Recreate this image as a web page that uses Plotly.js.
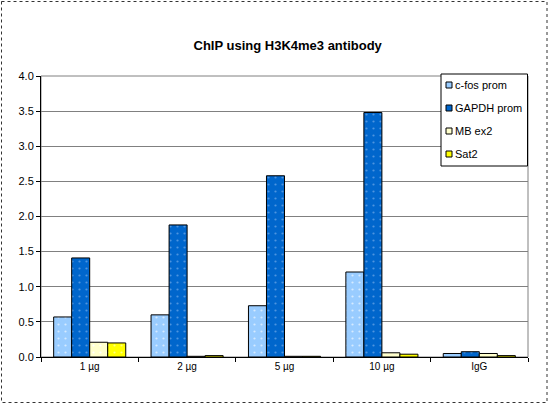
<!DOCTYPE html>
<html><head><meta charset="utf-8">
<script src="https://cdn.plot.ly/plotly-3.0.1.min.js"></script>
<style>body{margin:0;padding:0;background:#fff}#chart{width:550px;height:404px}</style>
</head><body><div id="chart"></div>
<script>
const categories = ["1 µg", "2 µg", "5 µg", "10 µg", "IgG"];
const seriesNames = ["c-fos prom", "GAPDH prom", "MB ex2", "Sat2"];
const cfos  = [0.57, 0.60, 0.73, 1.21, 0.05];
const gapdh = [1.41, 1.88, 2.58, 3.48, 0.075];
const mbex2 = [0.21, 0.01, 0.01, 0.06, 0.05];
const sat2  = [0.20, 0.02, 0.01, 0.04, 0.02];
const yTicks = [0, 0.5, 1, 1.5, 2, 2.5, 3, 3.5, 4];

const colors = ["#99CCFF", "#0066CC", "#FFFFCC", "#FFFF00"];
const dotColors = ["#D5EAFF", "#4D94E0", "#FFFFFF", "#FFFF80"];
const values = [cfos, gapdh, mbex2, sat2];

const traces = values.map((v, i) => ({
  type: "bar",
  name: seriesNames[i],
  x: categories,
  y: v,
  showlegend: false,
  marker: {
    color: colors[i],
    line: {color: "#000000", width: 1},
    pattern: {shape: ".", size: 7, solidity: 0.08, fgcolor: dotColors[i], fillmode: "replace", bgcolor: colors[i]}
  },
  hoverinfo: "none"
}));

const L = 41, R = 528, T = 76, B = 357, W = 550, H = 404;
const px = x => (x - L) / (R - L);
const py = y => (B - y) / (B - T);

const shapes = [
  {type: "rect", xref: "paper", yref: "paper", x0: 0, x1: 1, y0: 0, y1: 1,
   line: {color: "#808080", width: 1}, layer: "below"},
  {type: "rect", xref: "paper", yref: "paper", x0: px(1.5), x1: px(547), y0: py(1.5), y1: py(402.5),
   line: {color: "#333333", width: 1, dash: "dot"}},
  {type: "rect", xref: "paper", yref: "paper", x0: px(441), x1: px(527.5), y0: py(74), y1: py(166),
   line: {color: "#000000", width: 1}, fillcolor: "#ffffff", layer: "above"}
];
const annotations = [];
const legendY = [85, 108, 131, 154];
seriesNames.forEach((n, i) => {
  shapes.push({type: "rect", xref: "paper", yref: "paper",
    x0: px(446), x1: px(452), y0: py(legendY[i] + 3), y1: py(legendY[i] - 3),
    line: {color: "#000000", width: 1}, fillcolor: colors[i], layer: "above"});
  annotations.push({xref: "paper", yref: "paper", x: px(453), y: py(legendY[i]),
    xanchor: "left", yanchor: "middle", showarrow: false, text: n,
    font: {size: 11, family: "Liberation Sans, Arial, sans-serif", color: "#000000"}});
});

const layout = {
  width: W, height: H,
  margin: {l: L, r: W - R, t: T, b: H - B, pad: 0},
  paper_bgcolor: "#ffffff", plot_bgcolor: "#ffffff",
  font: {family: "Liberation Sans, Arial, sans-serif", color: "#000000", size: 11},
  title: {text: "<b>ChIP using H3K4me3 antibody</b>", font: {size: 13, family: "Liberation Sans, Arial, sans-serif"}, x: 0.523, xanchor: "center", y: 1 - 45 / H, yanchor: "middle"},
  barmode: "group",
  bargap: 0.26,
  bargroupgap: 0,
  showlegend: false,
  xaxis: {
    type: "category",
    tickson: "boundaries",
    ticks: "outside", ticklen: 4, tickcolor: "#000000",
    showline: true, linecolor: "#000000", linewidth: 1,
    showgrid: false, zeroline: false,
    tickfont: {size: 10},
    fixedrange: true
  },
  yaxis: {
    range: [0, 4],
    tickvals: yTicks,
    tickformat: ".1f",
    ticks: "outside", ticklen: 4, tickcolor: "#000000",
    showline: true, linecolor: "#000000", linewidth: 1,
    showgrid: true, gridcolor: "#808080", gridwidth: 1,
    zeroline: false,
    tickfont: {size: 11},
    fixedrange: true
  },
  shapes: shapes,
  annotations: annotations
};

Plotly.newPlot("chart", traces, layout, {staticPlot: true, displayModeBar: false});
</script></body></html>
